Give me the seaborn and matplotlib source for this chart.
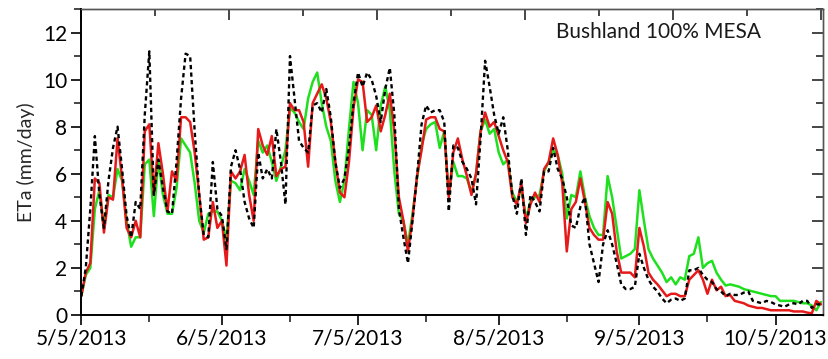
import numpy as np
import pandas as pd
import matplotlib
matplotlib.use("Agg")
import matplotlib.pyplot as plt
import matplotlib.dates as mdates
from matplotlib.ticker import MultipleLocator, FixedLocator, NullFormatter
import seaborn as sns

# ---------------- data ----------------
start_date = "2013-05-05"
end_date = "2013-10-15"
dates = pd.date_range(start_date, end_date, freq="D")

measured = [0.8, 2.0, 4.5, 7.6, 5.1, 3.7, 5.7, 7.1, 8.0, 6.2, 4.2, 3.3, 4.8, 4.5, 8.5, 11.2, 5.1, 6.6, 5.4, 4.4,
            4.3, 6.5, 9.2, 11.1, 11.0, 7.8, 5.1, 3.4, 3.3, 6.5, 4.5, 4.2, 2.8, 6.3, 7.0, 6.2, 4.8, 4.1, 3.7, 6.9,
            5.8, 6.2, 5.8, 7.9, 6.5, 4.7, 11.0, 9.2, 7.4, 7.1, 6.9, 8.9, 9.0, 8.6, 9.6, 8.4, 6.5, 5.4, 5.8, 7.1,
            9.0, 10.3, 9.7, 10.3, 10.0, 9.3, 8.2, 9.6, 10.5, 8.5, 4.5, 3.3, 2.2, 4.0, 5.9, 8.1, 8.9, 8.6, 8.7, 8.7,
            8.2, 4.4, 7.2, 7.1, 6.5, 6.2, 5.8, 4.7, 7.5, 10.8, 9.7, 8.5, 7.7, 8.4, 7.0, 5.1, 4.3, 5.8, 3.4, 5.1,
            4.8, 4.4, 6.1, 6.1, 7.1, 6.2, 5.8, 5.0, 3.8, 3.7, 4.6, 5.0, 3.0, 2.2, 1.4, 3.0, 3.6, 3.0, 2.2, 1.3,
            1.1, 1.1, 1.2, 2.6, 2.0, 1.5, 1.2, 1.0, 0.7, 0.5, 0.65, 0.7, 0.6, 0.7, 1.9, 1.9, 2.0, 1.7, 1.5, 1.4,
            1.1, 1.0, 0.8, 0.9, 0.85, 0.85, 0.95, 1.0, 0.6, 0.55, 0.5, 0.6, 0.55, 0.45, 0.4, 0.35, 0.45, 0.5, 0.45, 0.6,
            0.6, 0.3, 0.45, 0.45]

model_green = [0.8, 1.7, 2.0, 4.5, 5.3, 3.7, 5.1, 5.0, 6.2, 5.7, 4.0, 2.9, 3.3, 3.3, 6.4, 6.6, 4.2, 6.6, 5.1, 4.3,
               4.3, 5.4, 7.5, 7.2, 6.9, 5.6, 4.0, 3.5, 4.3, 4.4, 4.4, 4.0, 3.2, 5.7, 5.6, 5.3, 6.2, 5.7, 5.1, 7.4,
               6.9, 7.2, 6.5, 5.7, 6.3, 7.0, 8.8, 8.6, 8.2, 7.9, 9.2, 9.9, 10.3, 9.0, 8.0, 7.4, 5.7, 4.8, 5.7, 7.9,
               9.9, 9.0, 7.0, 8.7, 8.5, 7.0, 8.9, 9.7, 8.7, 6.1, 4.3, 4.0, 3.0, 4.3, 5.8, 7.2, 7.9, 8.1, 8.2, 7.1,
               7.8, 5.1, 6.5, 5.9, 5.9, 5.8, 5.2, 6.0, 7.8, 8.3, 7.7, 7.9, 6.9, 6.4, 6.6, 5.2, 4.8, 5.4, 4.1, 4.8,
               5.0, 5.1, 6.1, 6.5, 7.0, 6.8, 6.0, 4.1, 5.1, 5.0, 6.1, 5.0, 4.2, 3.7, 3.4, 3.4, 5.9, 5.0, 3.7, 2.4,
               2.5, 2.6, 2.8, 5.3, 4.0, 2.8, 2.4, 2.1, 1.8, 1.4, 1.6, 1.3, 1.6, 1.5, 2.5, 2.6, 3.3, 2.0, 2.2, 2.3,
               1.8, 1.5, 1.25, 1.3, 1.25, 1.2, 1.1, 1.05, 1.0, 0.95, 0.9, 0.85, 0.8, 0.8, 0.6, 0.6, 0.6, 0.6, 0.55, 0.5,
               0.5, 0.4, 0.2, 0.55]

model_red = [0.8, 1.8, 2.2, 5.8, 5.6, 3.5, 5.0, 4.9, 7.5, 5.8, 3.7, 3.3, 4.0, 3.3, 7.8, 8.1, 5.1, 7.3, 6.0, 4.4,
             6.1, 5.7, 8.4, 8.4, 8.2, 6.9, 5.1, 3.2, 3.3, 4.8, 3.7, 4.0, 2.1, 6.1, 5.8, 6.1, 6.8, 5.1, 4.0, 7.9,
             7.2, 6.8, 7.6, 5.9, 6.2, 6.3, 9.0, 8.7, 8.7, 8.2, 6.3, 9.0, 9.4, 9.8, 9.2, 8.2, 6.5, 5.2, 5.0, 6.5,
             8.8, 10.0, 9.9, 8.2, 8.4, 8.9, 7.8, 8.5, 9.4, 7.8, 5.0, 4.0, 2.7, 4.1, 5.9, 7.0, 8.3, 8.4, 8.4, 7.9,
             7.8, 5.0, 6.9, 7.5, 6.6, 5.9, 5.1, 6.0, 7.8, 8.6, 8.0, 8.2, 7.6, 7.0, 6.5, 5.0, 4.7, 5.6, 3.9, 4.7,
             5.2, 4.8, 6.2, 6.5, 7.5, 6.8, 5.6, 2.7, 4.5, 4.8, 5.8, 4.8, 3.7, 3.4, 3.2, 3.2, 4.8, 4.3, 2.7, 1.8,
             1.8, 1.8, 1.6, 3.7, 2.9, 1.8, 1.5, 1.3, 1.05, 0.8, 0.9, 0.9, 0.8, 0.8, 1.5, 1.7, 1.9, 1.5, 0.9, 1.5,
             1.05, 1.2, 0.8, 0.85, 0.6, 0.55, 0.5, 0.4, 0.35, 0.3, 0.3, 0.25, 0.2, 0.2, 0.2, 0.2, 0.2, 0.15, 0.15, 0.15,
             0.1, 0.07, 0.6, 0.45]

month_ticks = ["2013-05-05", "2013-06-05", "2013-07-05", "2013-08-05", "2013-09-05", "2013-10-05"]
mid_ticks = ["2013-05-20", "2013-06-20", "2013-07-20", "2013-08-20", "2013-09-20", "2013-10-20"]
tick_labels = ["5/5/2013", "6/5/2013", "7/5/2013", "8/5/2013", "9/5/2013", "10/5/2013"]
title_text = "Bushland 100% MESA"
y_label = "ETa (mm/day)"

df = pd.DataFrame({"date": dates, "measured": measured, "green": model_green, "red": model_red})

# ---------------- plot ----------------
sns.set_theme(style="ticks")
plt.rcParams["font.family"] = ["Lato", "DejaVu Sans"]

fig = plt.figure(figsize=(8.29, 3.59), dpi=100)
ax = fig.add_axes([0.098, 0.1226, 0.8944, 0.8524])

sns.lineplot(data=df, x="date", y="green", ax=ax, color="#1fe01f", linewidth=1.8)
sns.lineplot(data=df, x="date", y="red", ax=ax, color="#e51a1a", linewidth=1.8)
sns.lineplot(data=df, x="date", y="measured", ax=ax, color="black", linewidth=1.7,
             linestyle=(0, (1.8, 1.4)))

x0 = mdates.date2num(pd.Timestamp(start_date))
ax.set_xlim(x0, x0 + 163.4)
ax.set_ylim(0, 13)

ax.xaxis.set_major_locator(FixedLocator([mdates.date2num(pd.Timestamp(d)) for d in month_ticks]))
ax.xaxis.set_minor_locator(FixedLocator([mdates.date2num(pd.Timestamp(d)) for d in mid_ticks]))
ax.set_xticklabels(tick_labels)
ax.yaxis.set_major_locator(MultipleLocator(2))
ax.yaxis.set_minor_locator(MultipleLocator(1))

ax.tick_params(axis="both", which="major", direction="out", length=7, width=1.2,
               labelsize=15, colors="black", pad=3)
ax.tick_params(axis="both", which="minor", direction="out", length=5, width=1.2)
ax.set_xlabel("")
ax.set_ylabel(y_label, fontsize=14, labelpad=6)

for s in ["left", "bottom"]:
    ax.spines[s].set_linewidth(1.4)
    ax.spines[s].set_color("black")
for s in ["top", "right"]:
    ax.spines[s].set_visible(True)
    ax.spines[s].set_linewidth(1.0)
    ax.spines[s].set_color("#555555")

# inward ticks on top and right
top = ax.secondary_xaxis("top")
span = 163.0
top.xaxis.set_major_locator(FixedLocator([x0 + span * k / 5 for k in range(6)]))
top.xaxis.set_minor_locator(FixedLocator([x0 + span * (2 * k + 1) / 10 for k in range(5)]))
top.xaxis.set_major_formatter(NullFormatter())
top.tick_params(axis="x", which="major", direction="in", length=8, width=1.2)
top.tick_params(axis="x", which="minor", direction="in", length=5, width=1.2)
top.spines["top"].set_linewidth(1.0)
top.spines["top"].set_color("#555555")

right = ax.secondary_yaxis("right")
right.yaxis.set_major_locator(MultipleLocator(2))
right.yaxis.set_minor_locator(MultipleLocator(1))
right.yaxis.set_major_formatter(NullFormatter())
right.tick_params(axis="y", which="major", direction="in", length=8, width=1.2)
right.tick_params(axis="y", which="minor", direction="in", length=5, width=1.2)
right.spines["right"].set_linewidth(1.0)
right.spines["right"].set_color("#555555")

ax.text(0.64, 0.925, title_text, transform=ax.transAxes, fontsize=15, color="#1a1a1a",
        ha="left", va="center")

fig.savefig("out.png", dpi=100)
